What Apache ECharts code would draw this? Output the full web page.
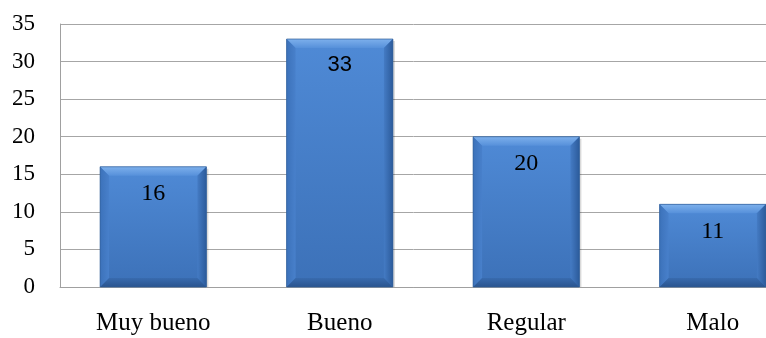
<!DOCTYPE html>
<html>
<head>
<meta charset="utf-8">
<script src="https://cdn.jsdelivr.net/npm/echarts@6/dist/echarts.min.js"></script>
<style>
  html, body { margin: 0; padding: 0; background: #fff; }
  #chart { width: 766px; height: 338px; }
</style>
</head>
<body>
<div id="chart"></div>
<script>
// Ratings and how many answers each one got
const categories = ['Muy bueno', 'Bueno', 'Regular', 'Malo'];
const counts = [16, 33, 20, 11];
const yTicks = { min: 0, max: 35, interval: 5 };

const serif = '"Liberation Serif", "DejaVu Serif", serif';
const BAR_RATIO = 0.57;
const BEVEL = 9;

const grad = (x0, y0, x1, y1, c0, c1) =>
  new echarts.graphic.LinearGradient(x0, y0, x1, y1, [
    { offset: 0, color: c0 }, { offset: 1, color: c1 }
  ]);

// Bevelled block: flat face plus four soft edge strips
function renderBevelBar(params, api) {
  const idx = api.value(0);
  const val = api.value(1);
  const top = api.coord([idx, val]);
  const base = api.coord([idx, 0]);
  const w = api.size([1, 0])[0] * BAR_RATIO;
  const x0 = top[0] - w / 2, x1 = top[0] + w / 2;
  const y0 = top[1], y1 = base[1];
  const b = Math.min(BEVEL, (y1 - y0) / 2);
  return {
    type: 'group',
    children: [
      { type: 'rect', shape: { x: x0 + 2, y: y0 + 2, width: w, height: y1 - y0 - 2 },
        style: { fill: 'rgba(0,0,0,0.15)' } },
      { type: 'rect', shape: { x: x0, y: y0, width: w, height: y1 - y0 },
        style: { fill: grad(0, 0, 0, 1, '#4f8ad6', '#3c71b8') } },
      { type: 'polygon', shape: { points: [[x0, y0], [x1, y0], [x1 - b, y0 + b], [x0 + b, y0 + b]] },
        style: { fill: grad(0, 0, 0, 1, '#7db0ec', '#5690da') } },
      { type: 'polygon', shape: { points: [[x0, y0], [x0 + b, y0 + b], [x0 + b, y1 - b], [x0, y1]] },
        style: { fill: grad(0, 0, 1, 0, '#3c72ba', '#4880cb') } },
      { type: 'polygon', shape: { points: [[x1, y0], [x1, y1], [x1 - b, y1 - b], [x1 - b, y0 + b]] },
        style: { fill: grad(0, 0, 1, 0, '#447bc4', '#2c5b9b') } },
      { type: 'polygon', shape: { points: [[x0, y1], [x0 + b, y1 - b], [x1 - b, y1 - b], [x1, y1]] },
        style: { fill: grad(0, 0, 0, 1, '#386bae', '#2a548f') } },
      { type: 'rect', shape: { x: x0, y: y0, width: w, height: y1 - y0 },
        style: { fill: 'none', stroke: '#2f5b96', lineWidth: 0.7 } }
    ]
  };
}

const labelData = counts.map((v, i) => {
  const item = { value: v };
  if (categories[i] === 'Bueno') {
    item.label = { fontFamily: '"Liberation Sans", Arial, sans-serif', fontSize: 22 };
  }
  return item;
});

const chart = echarts.init(document.getElementById('chart'), null, { renderer: 'canvas' });
chart.setOption({
  animation: false,
  backgroundColor: '#ffffff',
  grid: { left: 60, top: 24, width: 746, height: 263, outerBoundsMode: 'none', containLabel: false },
  xAxis: {
    type: 'category',
    data: categories,
    axisLine: { show: true, lineStyle: { color: '#a0a0a0', width: 1 } },
    axisTick: { show: false },
    axisLabel: { color: '#000', fontFamily: serif, fontSize: 25, margin: 24 }
  },
  yAxis: {
    type: 'value',
    min: yTicks.min, max: yTicks.max, interval: yTicks.interval,
    axisLine: { show: true, lineStyle: { color: '#a0a0a0', width: 1 } },
    axisTick: { show: false },
    splitLine: { show: true, lineStyle: { color: '#a6a6a6', width: 1 } },
    axisLabel: { color: '#000', fontFamily: serif, fontSize: 23, margin: 25 }
  },
  series: [
    {
      type: 'custom',
      renderItem: renderBevelBar,
      data: counts.map((v, i) => [i, v]),
      encode: { x: 0, y: 1 },
      z: 2
    },
    {
      type: 'bar',
      data: labelData,
      barWidth: (BAR_RATIO * 100) + '%',
      itemStyle: { color: 'rgba(0,0,0,0)' },
      label: {
        show: true, position: 'insideTop', distance: 15,
        color: '#000', fontFamily: serif, fontSize: 24
      },
      z: 3
    }
  ]
});
</script>
</body>
</html>
